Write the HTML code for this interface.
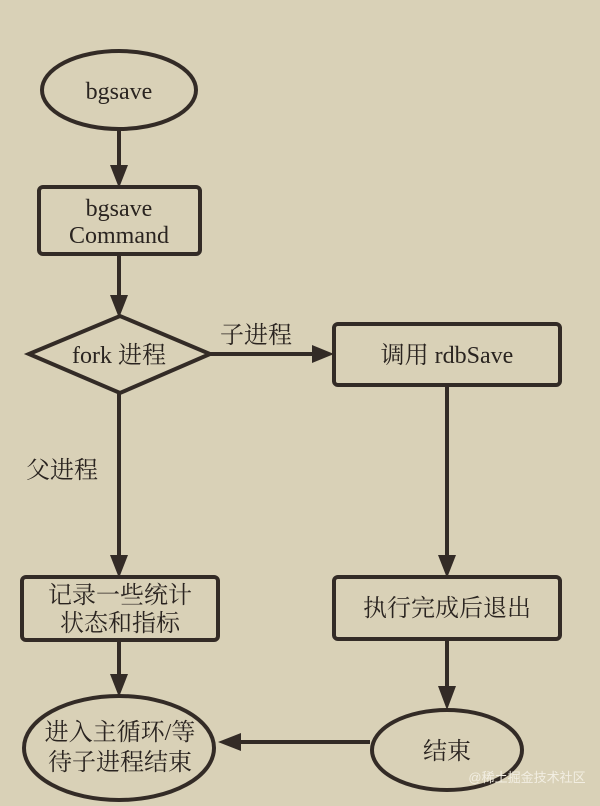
<!DOCTYPE html>
<html><head><meta charset="utf-8"><style>
html,body{margin:0;padding:0;background:#d9d1b7;}
svg{display:block;}
text{font-family:"Liberation Serif","Noto Serif CJK SC",serif;font-size:24px;fill:#2a2420;text-anchor:middle;}
</style></head><body>
<svg width="600" height="806" viewBox="0 0 600 806" xmlns="http://www.w3.org/2000/svg">
<g stroke="#332b26" stroke-width="4" fill="none">
<ellipse cx="119" cy="90" rx="77" ry="39"/>
<rect x="39" y="187" width="161" height="67" rx="4"/>
<polygon points="29,354 120,316 210,354 120,393"/>
<rect x="334" y="324" width="226" height="61" rx="4"/>
<rect x="334" y="577" width="226" height="62" rx="4"/>
<ellipse cx="447" cy="750" rx="75" ry="40"/>
<rect x="22" y="577" width="196" height="63" rx="4"/>
<ellipse cx="119" cy="748" rx="95" ry="52"/>
<line x1="119" y1="129" x2="119" y2="168"/>
<line x1="119" y1="254" x2="119" y2="298"/>
<line x1="210" y1="354" x2="316" y2="354"/>
<line x1="447" y1="385" x2="447" y2="558"/>
<line x1="447" y1="639" x2="447" y2="690"/>
<line x1="370" y1="742" x2="238" y2="742"/>
<line x1="119" y1="393" x2="119" y2="558"/>
<line x1="119" y1="640" x2="119" y2="677"/>
</g>
<g fill="#332b26">
<polygon points="110,165 128,165 119,188"/>
<polygon points="110,295 128,295 119,318"/>
<polygon points="312,345 312,363 334,354"/>
<polygon points="438,555 456,555 447,578"/>
<polygon points="438,686 456,686 447,710"/>
<polygon points="241,733 241,751 218,742"/>
<polygon points="110,555 128,555 119,578"/>
<polygon points="110,674 128,674 119,697"/>
</g>
<text x="119" y="99">bgsave</text>
<text x="119" y="216">bgsave</text>
<text x="119" y="243">Command</text>
<text x="119" y="363">fork 进程</text>
<text x="256" y="343">子进程</text>
<text x="447" y="363">调用 rdbSave</text>
<text x="62" y="478">父进程</text>
<text x="447" y="616">执行完成后退出</text>
<text x="447" y="759">结束</text>
<text x="120" y="603">记录一些统计</text>
<text x="120" y="631">状态和指标</text>
<text x="120" y="740">进入主循环/等</text>
<text x="120" y="770">待子进程结束</text>
<text x="527" y="782" style="font-size:13px;fill:#f2eee2;font-family:'Liberation Sans','Noto Sans CJK SC',sans-serif">@稀土掘金技术社区</text>
</svg>
</body></html>
